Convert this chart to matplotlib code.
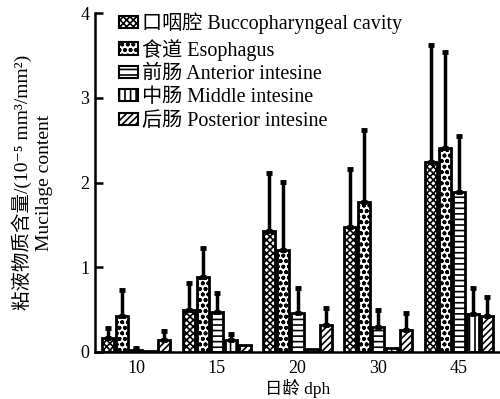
import numpy as np
import matplotlib
matplotlib.use("Agg")
import matplotlib.pyplot as plt
from matplotlib.patches import Patch

plt.rcParams['font.family'] = ['Liberation Serif', 'Noto Sans CJK SC', 'DejaVu Serif']
plt.rcParams['hatch.linewidth'] = 1.2

days = ['10', '15', '20', '30', '45']
segments = ['口咽腔 Buccopharyngeal cavity', '食道 Esophagus', '前肠 Anterior intesine',
            '中肠 Middle intesine', '后肠 Posterior intesine']

# mean values per segment for each day
bucco = [0.17, 0.50, 1.43, 1.48, 2.24]
esoph = [0.43, 0.89, 1.20, 1.77, 2.41]
anterior = [0.02, 0.47, 0.46, 0.30, 1.89]
middle = [0.01, 0.14, 0.04, 0.05, 0.45]
posterior = [0.14, 0.08, 0.32, 0.26, 0.43]

# upper error (SD)
bucco_err = [0.11, 0.31, 0.68, 0.68, 1.38]
esoph_err = [0.30, 0.34, 0.81, 0.85, 1.13]
anterior_err = [0.03, 0.23, 0.29, 0.20, 0.66]
middle_err = [0.0, 0.07, 0.0, 0.0, 0.31]
posterior_err = [0.11, 0.0, 0.20, 0.20, 0.22]

means = [bucco, esoph, anterior, middle, posterior]
errs = [bucco_err, esoph_err, anterior_err, middle_err, posterior_err]
hatches = ['xxxxx', 'ooo', '---', '|||', '/////']

fig = plt.figure(figsize=(5.0, 3.99), dpi=100)
ax = fig.add_axes([0.19, 0.118, 0.81, 0.849])

x = np.arange(len(days))
step = 0.175
width = 0.15

for i, (m, e, h) in enumerate(zip(means, errs, hatches)):
    pos = x + (i - 2) * step
    ax.bar(pos, m, width=width, color='white', edgecolor='black',
           linewidth=2.0, hatch=h, zorder=2)
    e = np.array(e)
    has = e > 0
    ax.errorbar(pos[has], np.array(m)[has],
                yerr=[np.zeros(has.sum()), e[has]],
                fmt='none', ecolor='black', elinewidth=2.5,
                capsize=2.5, capthick=3.5, zorder=3)

ax.set_xlim(-0.51, 4.51)
ax.set_ylim(0, 4)
ax.set_xticks(x)
ax.set_xticklabels(days)
ax.set_yticks([0, 1, 2, 3, 4])

ax.spines[['top', 'right']].set_visible(False)
ax.spines[['left', 'bottom']].set_linewidth(1.8)

ax.tick_params(axis='y', direction='in', length=6, width=1.8, labelsize=13, pad=4)
ax.tick_params(axis='x', length=0, labelsize=13, pad=6)

ax.set_xlabel('日龄 dph', fontsize=12.5, labelpad=1)
ax.set_ylabel('粘液物质含量/(10⁻⁵ mm³/mm²)\nMucilage content',
              fontsize=14, labelpad=20, linespacing=1.25)

handles = [Patch(facecolor='white', edgecolor='black', linewidth=1.5, hatch=h)
           for h in hatches]
ax.legend(handles, segments, loc='upper left', bbox_to_anchor=(0.04, 1.025),
          frameon=False, fontsize=14.5, handlelength=0.95, handleheight=0.55,
          handletextpad=0.2, labelspacing=0.22, borderaxespad=0)

fig.savefig('out.png', dpi=100)
